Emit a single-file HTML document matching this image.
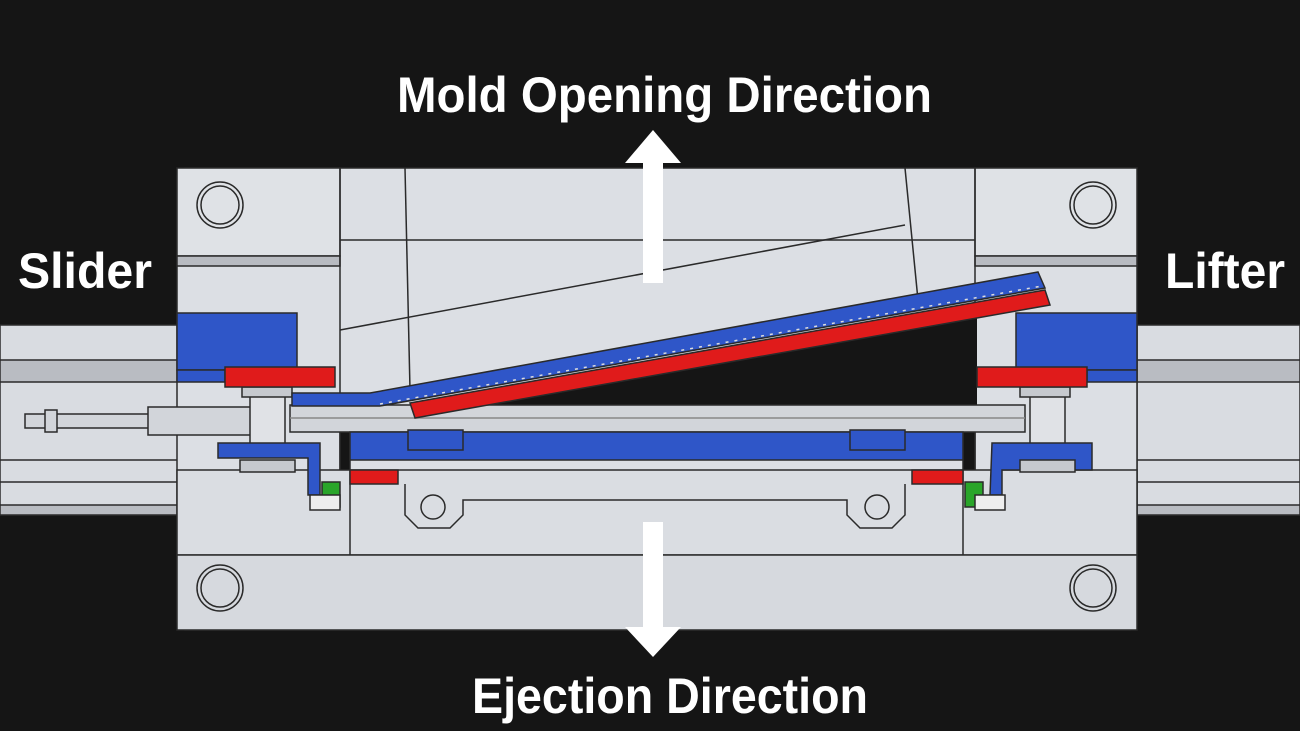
<!DOCTYPE html>
<html><head><meta charset="utf-8"><style>html,body{margin:0;padding:0;background:#151515;}svg{display:block}</style></head>
<body>
<svg width="1300" height="731" viewBox="0 0 1300 731" xmlns="http://www.w3.org/2000/svg" font-family="Liberation Sans, sans-serif">
<rect width="1300" height="731" fill="#151515"/>
<g stroke="#2a2a2a" stroke-width="1.5">
<!-- rails -->
<rect x="0" y="325" width="178" height="190" fill="#d9dce1"/>
<rect x="1137" y="325" width="163" height="190" fill="#d9dce1"/>
<rect x="0" y="360" width="178" height="22" fill="#b9bcc2"/>
<rect x="1137" y="360" width="163" height="22" fill="#b9bcc2"/>
<line x1="0" y1="460" x2="178" y2="460"/><line x1="0" y1="482" x2="178" y2="482"/>
<line x1="1137" y1="460" x2="1300" y2="460"/><line x1="1137" y1="482" x2="1300" y2="482"/>
<rect x="0" y="505" width="178" height="10" fill="#b9bcc2"/>
<rect x="1137" y="505" width="163" height="10" fill="#b9bcc2"/>
<!-- main body -->
<path d="M185 168 H1130 L1137 176 V625 L1130 630 H185 L177 622 V176 Z" fill="#dcdfe4"/>
<!-- top corner blocks -->
<rect x="177" y="168" width="163" height="88" fill="#dfe2e6"/>
<rect x="975" y="168" width="162" height="88" fill="#dfe2e6"/>
<rect x="177" y="256" width="163" height="10" fill="#b8bbc1"/>
<rect x="975" y="256" width="162" height="10" fill="#b8bbc1"/>
<line x1="340" y1="168" x2="340" y2="470"/><line x1="975" y1="168" x2="975" y2="470"/>
<line x1="405" y1="168" x2="410" y2="390"/><line x1="905" y1="168" x2="918" y2="300"/>
<line x1="340" y1="240" x2="975" y2="240"/>
<line x1="340" y1="330" x2="905" y2="225"/>
<!-- dark cavity -->
<path d="M420 410 L977 310 V410 Z" fill="#151515" stroke="none"/>
<rect x="340" y="432" width="10" height="75" fill="#151515"/>
<rect x="963" y="432" width="12" height="75" fill="#151515"/>
<!-- lower plate -->
<rect x="177" y="470" width="960" height="85" fill="#dadde2"/>
<rect x="177" y="555" width="960" height="75" fill="#d6d9de"/>
<line x1="350" y1="470" x2="350" y2="555"/><line x1="963" y1="470" x2="963" y2="555"/>
<path d="M405 484 V515 L418 528 H450 L463 515 V500 H847 V515 L860 528 H892 L905 515 V484" fill="none"/>
<circle cx="433" cy="507" r="12" fill="none"/><circle cx="877" cy="507" r="12" fill="none"/>
<!-- bolt circles -->
<g fill="none"><circle cx="220" cy="205" r="23"/><circle cx="220" cy="205" r="19"/>
<circle cx="1093" cy="205" r="23"/><circle cx="1093" cy="205" r="19"/>
<circle cx="220" cy="588" r="23"/><circle cx="220" cy="588" r="19"/>
<circle cx="1093" cy="588" r="23"/><circle cx="1093" cy="588" r="19"/></g>
<!-- rods -->
<rect x="290" y="405" width="735" height="27" fill="#d2d5da"/>
<line x1="290" y1="418" x2="1025" y2="418" stroke="#888"/>
<rect x="25" y="414" width="125" height="14" fill="#d2d5da"/>
<rect x="45" y="410" width="12" height="22" fill="#d2d5da"/>
<rect x="148" y="407" width="105" height="28" fill="#d2d5da"/>
<rect x="250" y="395" width="35" height="50" fill="#e0e2e6"/>
<rect x="1030" y="395" width="35" height="50" fill="#e0e2e6"/>
<rect x="242" y="387" width="50" height="10" fill="#c6c9ce"/>
<rect x="1020" y="387" width="50" height="10" fill="#c6c9ce"/>
<!-- slider/lifter blocks -->
<rect x="177" y="313" width="120" height="57" fill="#2f56c8"/>
<rect x="177" y="370" width="48" height="12" fill="#2f56c8"/>
<rect x="225" y="367" width="110" height="20" fill="#e01b1b"/>
<rect x="1016" y="313" width="121" height="57" fill="#2f56c8"/>
<rect x="1087" y="370" width="50" height="12" fill="#2f56c8"/>
<rect x="977" y="367" width="110" height="20" fill="#e01b1b"/>
<!-- lifter bars -->
<path d="M292 393 H370 L1038 272 L1045 288 L380 406 H292 Z" fill="#2f56c8"/>
<path d="M410 403 L1045 290 L1050 305 L415 418 Z" fill="#e01b1b"/>
<line x1="380" y1="404" x2="1042" y2="286" stroke="#ddd" stroke-dasharray="3 6"/>
<!-- blue plate -->
<rect x="350" y="432" width="613" height="28" fill="#2f56c8"/>
<rect x="408" y="430" width="55" height="20" fill="#2f56c8"/>
<rect x="850" y="430" width="55" height="20" fill="#2f56c8"/>
<path d="M218 443 H320 V495 H308 V458 H218 Z" fill="#2f56c8"/>
<path d="M992 443 H1092 V470 H1002 V495 H990 Z" fill="#2f56c8"/>
<rect x="240" y="460" width="55" height="12" fill="#c6c9ce"/>
<rect x="1020" y="460" width="55" height="12" fill="#c6c9ce"/>
<rect x="350" y="470" width="48" height="14" fill="#e01b1b"/>
<rect x="912" y="470" width="51" height="14" fill="#e01b1b"/>
<rect x="322" y="482" width="18" height="25" fill="#2aa52a"/>
<rect x="965" y="482" width="18" height="25" fill="#2aa52a"/>
<rect x="310" y="495" width="30" height="15" fill="#eee"/>
<rect x="975" y="495" width="30" height="15" fill="#eee"/>
</g>
<!-- arrows -->
<rect x="643" y="160" width="20" height="123" fill="#fff"/>
<polygon points="625,163 681,163 653,130" fill="#fff"/>
<rect x="643" y="522" width="20" height="108" fill="#fff"/>
<polygon points="625,627 681,627 653,657" fill="#fff"/>
<!-- labels -->
<g fill="#fff" font-weight="bold">
<text x="397" y="112" font-size="50" textLength="535" lengthAdjust="spacingAndGlyphs">Mold Opening Direction</text>
<text x="472" y="713" font-size="50" textLength="396" lengthAdjust="spacingAndGlyphs">Ejection Direction</text>
<text x="18" y="288" font-size="50" textLength="134" lengthAdjust="spacingAndGlyphs">Slider</text>
<text x="1165" y="288" font-size="50" textLength="120" lengthAdjust="spacingAndGlyphs">Lifter</text>
</g>
</svg>
</body></html>
